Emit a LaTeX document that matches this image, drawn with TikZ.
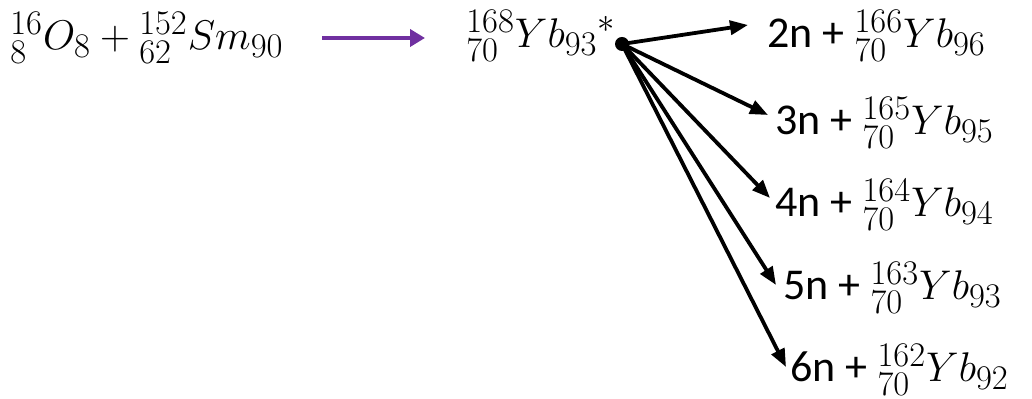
\documentclass[tikz,border=0pt]{standalone}
\usepackage[no-math]{fontspec}
\setmainfont{Carlito}
\usepackage{amsmath}
\usepackage{tikz}
\usetikzlibrary{arrows.meta,calc}
\DeclareMathSizes{22}{22}{16.5}{12}
\definecolor{lila}{HTML}{7030A0}
\tikzset{
  fusion/.style={-{Triangle[length=7.5pt,width=8.5pt]},lila,line width=2.4pt},
  zerfall/.style={-{Triangle[length=9pt,width=7pt]},black,line width=1.9pt},
  kern/.style={inner sep=0pt,font=\fontsize{22}{26}\selectfont},
}
\newcommand{\nuk}[4]{{}^{#1}_{#2}#3_{#4}}

\begin{document}
\begin{tikzpicture}[x=0.5pt,y=-0.5pt]
  \useasboundingbox (0,0) rectangle (1032,399);
  \node[kern,anchor=base west] (react) at (10,50) {$\nuk{16}{8}{O}{8}+\nuk{152}{62}{Sm}{90}$};
  \node[kern,anchor=base west] (comp) at (466,48) {$\nuk{168}{70}{Yb}{93}{}^{*}$};
  \draw[fusion] (322,38) -- (425,38);
  \coordinate (cn) at (622,44);
  \fill (cn) circle (7);
  % Zerfallskanaele
  \node[kern,anchor=base west] (p2) at (767,48) {2n + $\nuk{166}{70}{Yb}{96}$};
  \node[kern,anchor=base west] (p3) at (775,135) {3n + $\nuk{165}{70}{Yb}{95}$};
  \node[kern,anchor=base west] (p4) at (775,217) {4n + $\nuk{164}{70}{Yb}{94}$};
  \node[kern,anchor=base west] (p5) at (783,300) {5n + $\nuk{163}{70}{Yb}{93}$};
  \node[kern,anchor=base west] (p6) at (790,382) {6n + $\nuk{162}{70}{Yb}{92}$};
  \draw[zerfall] (cn) -- ([shift={(-19,-23)}]p2.base west);
  \draw[zerfall] (cn) -- ([shift={(-7,-20)}]p3.base west);
  \draw[zerfall] (cn) -- ([shift={(-5,-19)}]p4.base west);
  \draw[zerfall] (cn) -- ([shift={(-7,-15)}]p5.base west);
  \draw[zerfall] (cn) -- ([shift={(-4,-15)}]p6.base west);
\end{tikzpicture}
\end{document}
